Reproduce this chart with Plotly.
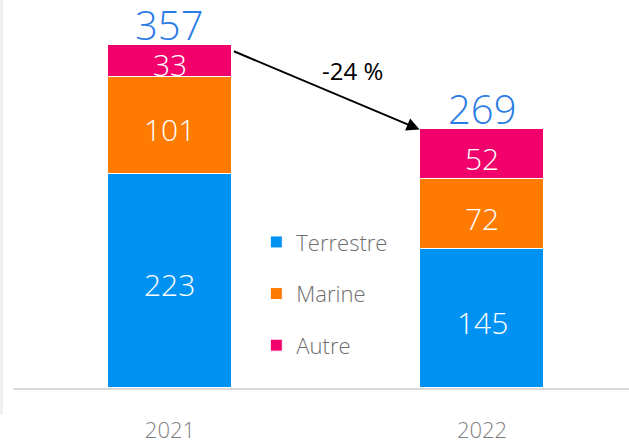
import plotly.graph_objects as go

years = ["2021", "2022"]
terrestre = [223, 145]
marine = [101, 72]
autre = [33, 52]
totals = [357, 269]
change_label = "-24 %"

x = [0, 1]
FONT = "Open Sans"

fig = go.Figure()
series = [("Terrestre", terrestre, "#0092F2"), ("Marine", marine, "#FF7A00"), ("Autre", autre, "#F2006C")]
base = [0, 0]
for name, vals, col in series:
    fig.add_trace(go.Bar(
        x=x, y=vals, name=name, marker=dict(color=col, line=dict(color="white", width=1)),
        width=0.4, legendgroup=name, hoverinfo="skip",
    ))
    for xi, b, v in zip(x, base, vals):
        fig.add_annotation(
            x=xi, y=b + v / 2, xref="x", yref="y", text=str(v), showarrow=False, yshift=-4,
            font=dict(color="white", size=30, family=FONT, weight=300),
        )
    base = [b + v for b, v in zip(base, vals)]

for xi, t in zip(x, totals):
    fig.add_annotation(
        x=xi, y=t, xref="x", yref="y", text=str(t), showarrow=False, yanchor="bottom", yshift=-9,
        font=dict(color="#2A7BE4", size=40, family=FONT, weight=300),
    )

fig.add_annotation(
    x=0.8, y=totals[1], ax=0.2, ay=totals[0] - 6, xref="x", yref="y", axref="x", ayref="y",
    showarrow=True, arrowhead=2, arrowsize=1.3, arrowwidth=2, arrowcolor="black", text="",
    standoff=0,
)
fig.add_annotation(
    x=0.585, y=totals[0] - 27, xref="x", yref="y", text=change_label, showarrow=False,
    font=dict(color="black", size=24, family=FONT),
)

fig.add_shape(type="rect", xref="paper", yref="paper", x0=-13/616, x1=-10/616, y0=-27/388, y1=1,
              fillcolor="#EEF0F4", line=dict(width=0), layer="below")

fig.update_layout(
    width=629, height=441, barmode="stack", plot_bgcolor="white", paper_bgcolor="white",
    margin=dict(l=13, r=0, t=0, b=53, autoexpand=False),
    showlegend=True,
    legend=dict(x=0.395, y=0.43, xanchor="left", yanchor="top", traceorder="grouped",
                tracegroupgap=20, font=dict(size=22, color="#6E6E6E", family=FONT, weight=300),
                bgcolor="rgba(0,0,0,0)"),
    xaxis=dict(range=[-0.503, 1.471], tickvals=x, ticktext=years, showgrid=False, zeroline=False,
               showline=True, linecolor="#D9D9D9", linewidth=2,
               ticks="outside", ticklen=22, tickcolor="rgba(0,0,0,0)",
               tickfont=dict(size=22, color="#7F7F7F", family=FONT, weight=300)),
    yaxis=dict(range=[0, 403.7], visible=False),
    bargap=0,
)

fig.write_html("out.html", config={"displayModeBar": False},
               post_script="document.body.style.margin='0';document.body.style.overflow='hidden';")
